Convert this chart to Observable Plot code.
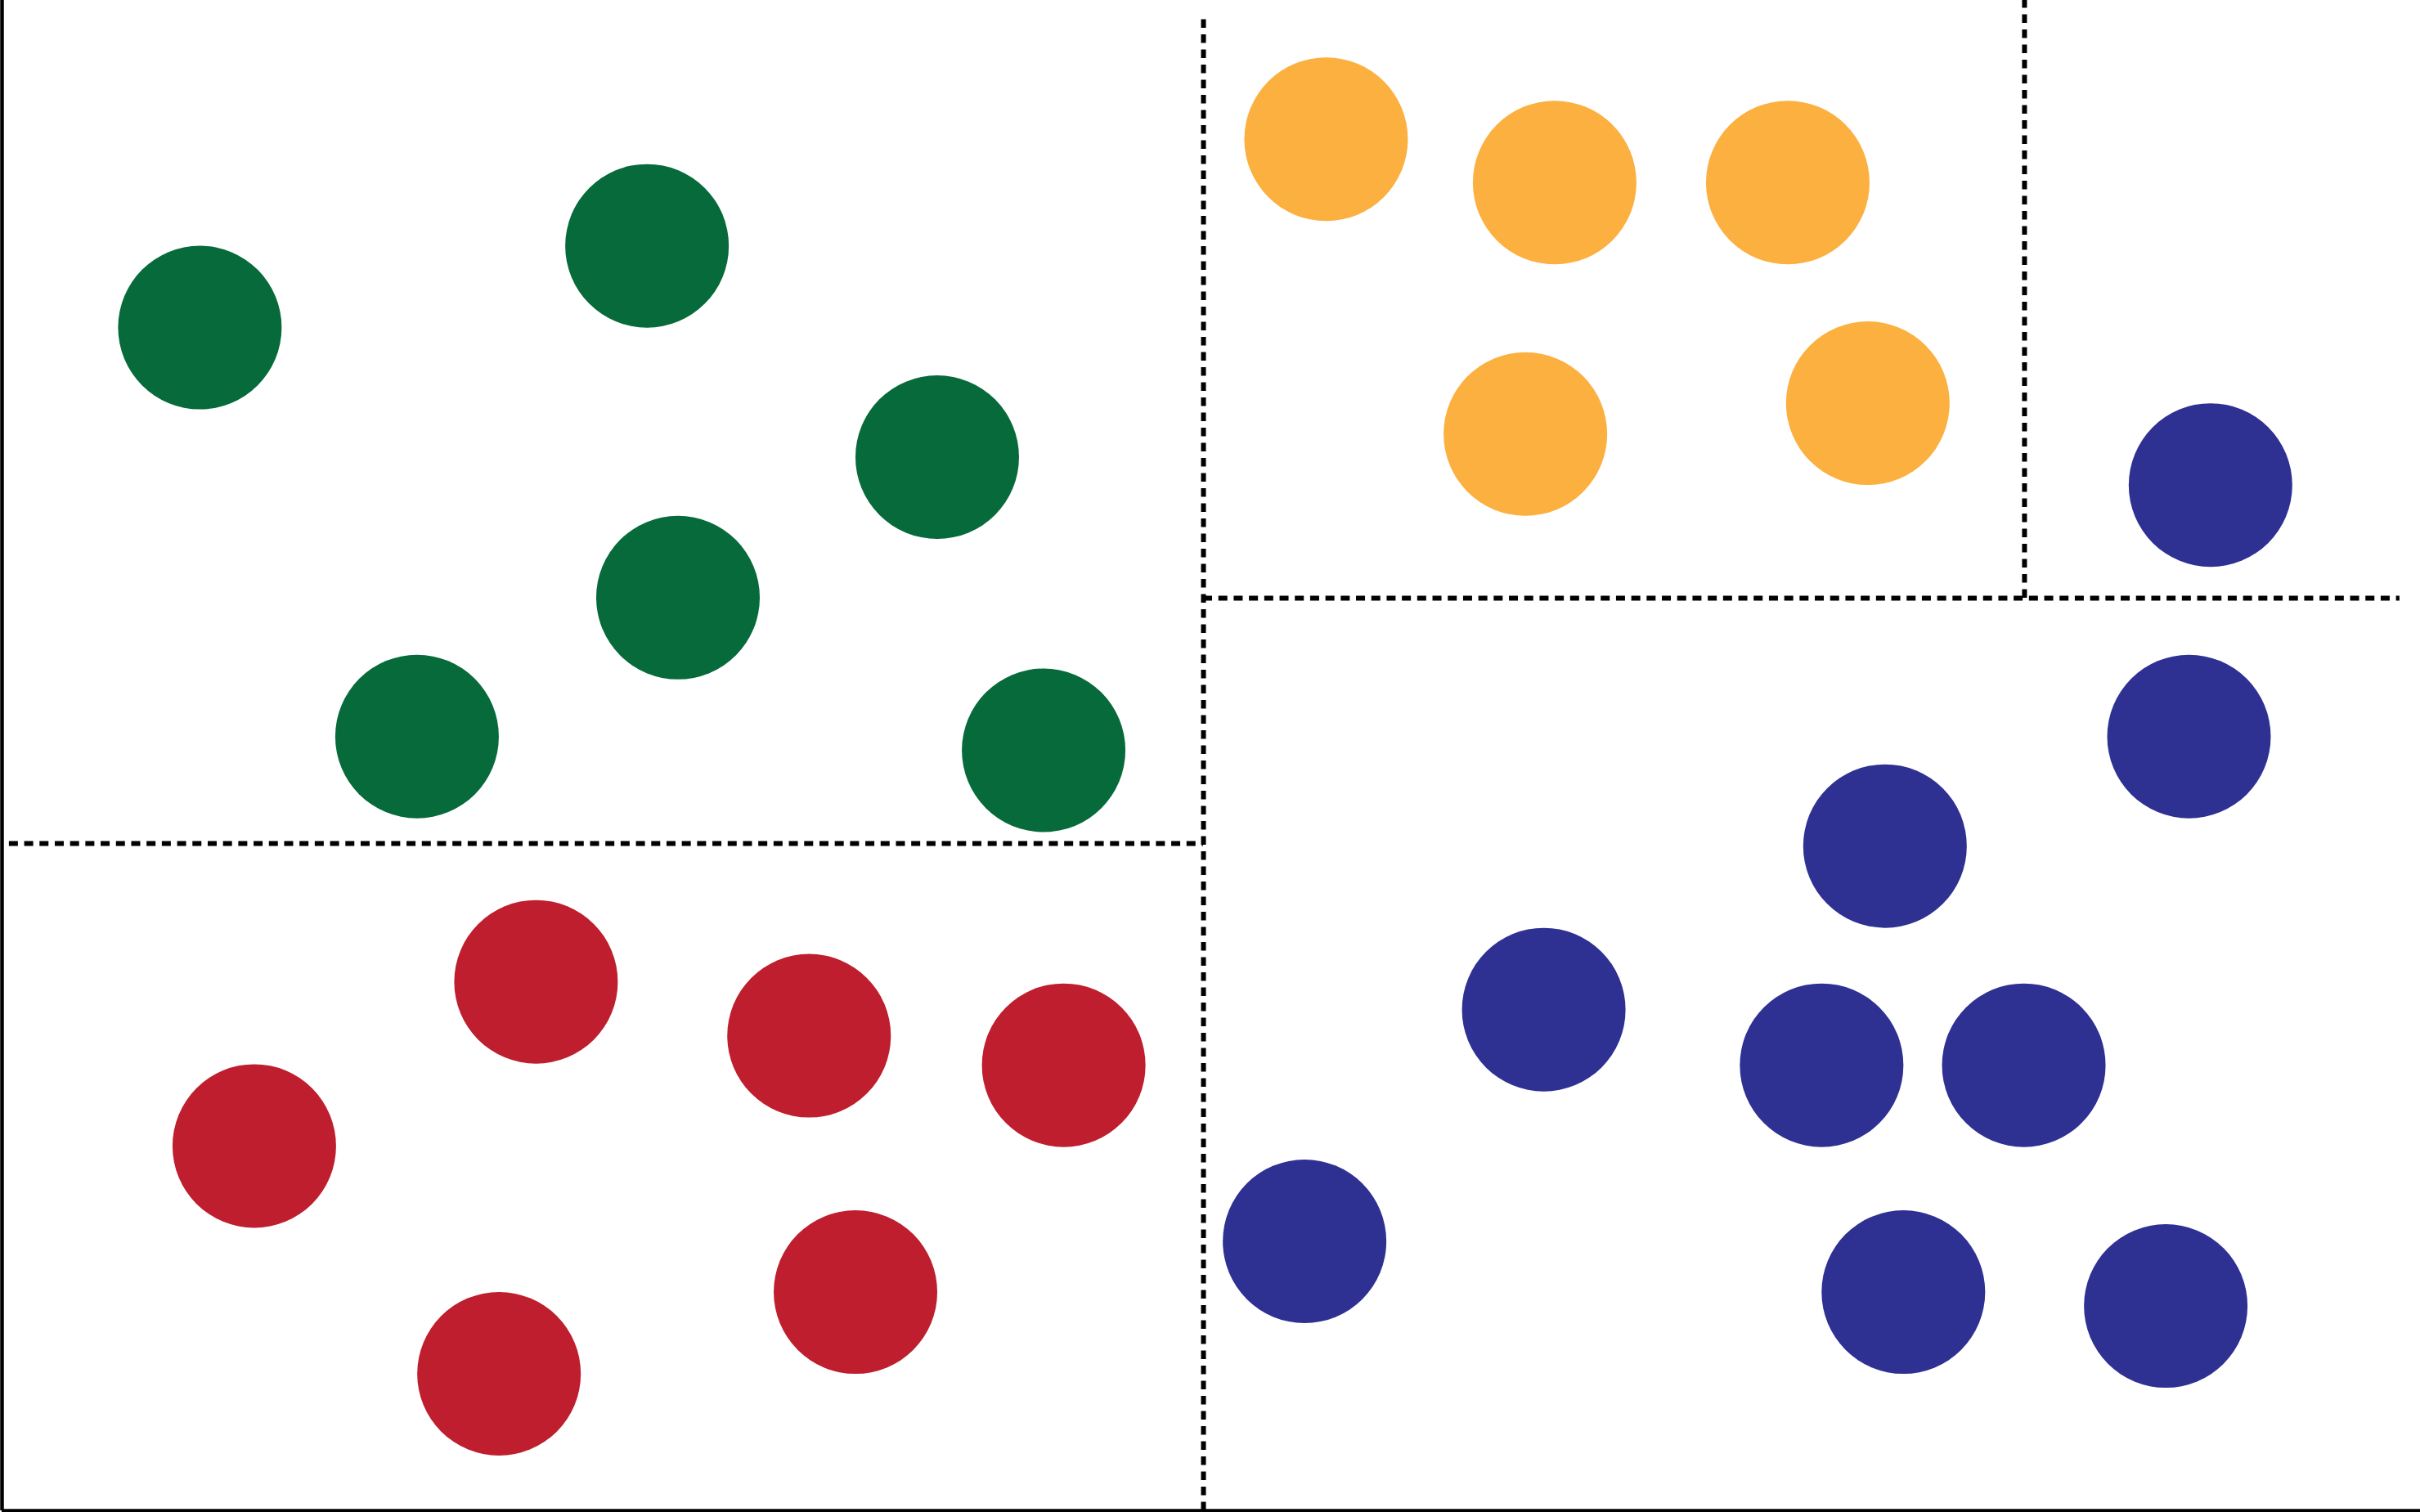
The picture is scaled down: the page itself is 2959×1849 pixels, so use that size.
<!DOCTYPE html>
<html>
<head>
<meta charset="utf-8">
<script src="https://cdn.jsdelivr.net/npm/d3@7"></script>
<script src="https://cdn.jsdelivr.net/npm/@observablehq/plot@0.6"></script>
<style>
  html, body { margin: 0; padding: 0; background: #ffffff; }
  #chart svg { display: block; }
</style>
</head>
<body>
<div id="chart"></div>
<script>
// Class labels and colours
const classes = ["Class A", "Class B", "Class C", "Class D"];
const classColors = ["#066a3a", "#be1e2d", "#fbb040", "#2e3192"];

// Points per class (x, y in a 0–100 feature space)
const classAX = [8.18, 26.67, 38.67, 27.95, 17.16, 43.07];
const classAY = [78.34, 83.75, 69.76, 60.46, 51.26, 50.35];

const classBX = [10.43, 22.08, 33.37, 43.90, 35.29, 20.55];
const classBY = [24.15, 35.02, 31.45, 29.50, 14.48, 9.07];

const classCX = [54.75, 64.20, 73.84, 62.99, 77.15];
const classCY = [90.81, 87.94, 87.94, 71.29, 73.33];

const classDX = [91.32, 90.43, 77.86, 63.75, 75.24, 83.60, 53.86, 78.62, 89.47];
const classDY = [67.91, 51.26, 44.01, 33.18, 29.50, 29.50, 17.84, 14.48, 13.56];

// Split boundaries (decision regions)
const vSplitX  = [49.68, 83.63];
const vSplitY1 = [0, 60.42];
const vSplitY2 = [98.97, 100];

const hSplitY  = [44.18, 60.42];
const hSplitX1 = [0.3, 49.68];
const hSplitX2 = [49.68, 99.15];

const points = [];
[[classAX, classAY], [classBX, classBY], [classCX, classCY], [classDX, classDY]].forEach(([xs, ys], i) => {
  xs.forEach((x, j) => points.push({x, y: ys[j], cls: classes[i]}));
});
const vSplits = vSplitX.map((x, i) => ({x, y1: vSplitY1[i], y2: vSplitY2[i]}));
const hSplits = hSplitY.map((y, i) => ({y, x1: hSplitX1[i], x2: hSplitX2[i]}));

const chart = Plot.plot({
  width: 2959,
  height: 1849,
  marginLeft: 2,
  marginRight: 0,
  marginTop: 0,
  marginBottom: 2,
  x: {domain: [0, 100], axis: null},
  y: {domain: [0, 100], axis: null},
  color: {type: "ordinal", domain: classes, range: classColors},
  style: {background: "#ffffff"},
  marks: [
    Plot.dot(points, {x: "x", y: "y", r: 100, fill: d => d.cls, stroke: "none", shapeRendering: "geometricPrecision"}),
    Plot.ruleX(vSplits, {x: "x", y1: "y1", y2: "y2", stroke: "#000", strokeWidth: 6, strokeDasharray: "10.5 8"}),
    Plot.ruleY(hSplits, {y: "y", x1: "x1", x2: "x2", stroke: "#000", strokeWidth: 6, strokeDasharray: "11 7.7"}),
    Plot.ruleX([0], {stroke: "#000", strokeWidth: 4.5}),
    Plot.ruleY([0], {stroke: "#000", strokeWidth: 4.5})
  ]
});
document.getElementById("chart").appendChild(chart);
</script>
</body>
</html>
